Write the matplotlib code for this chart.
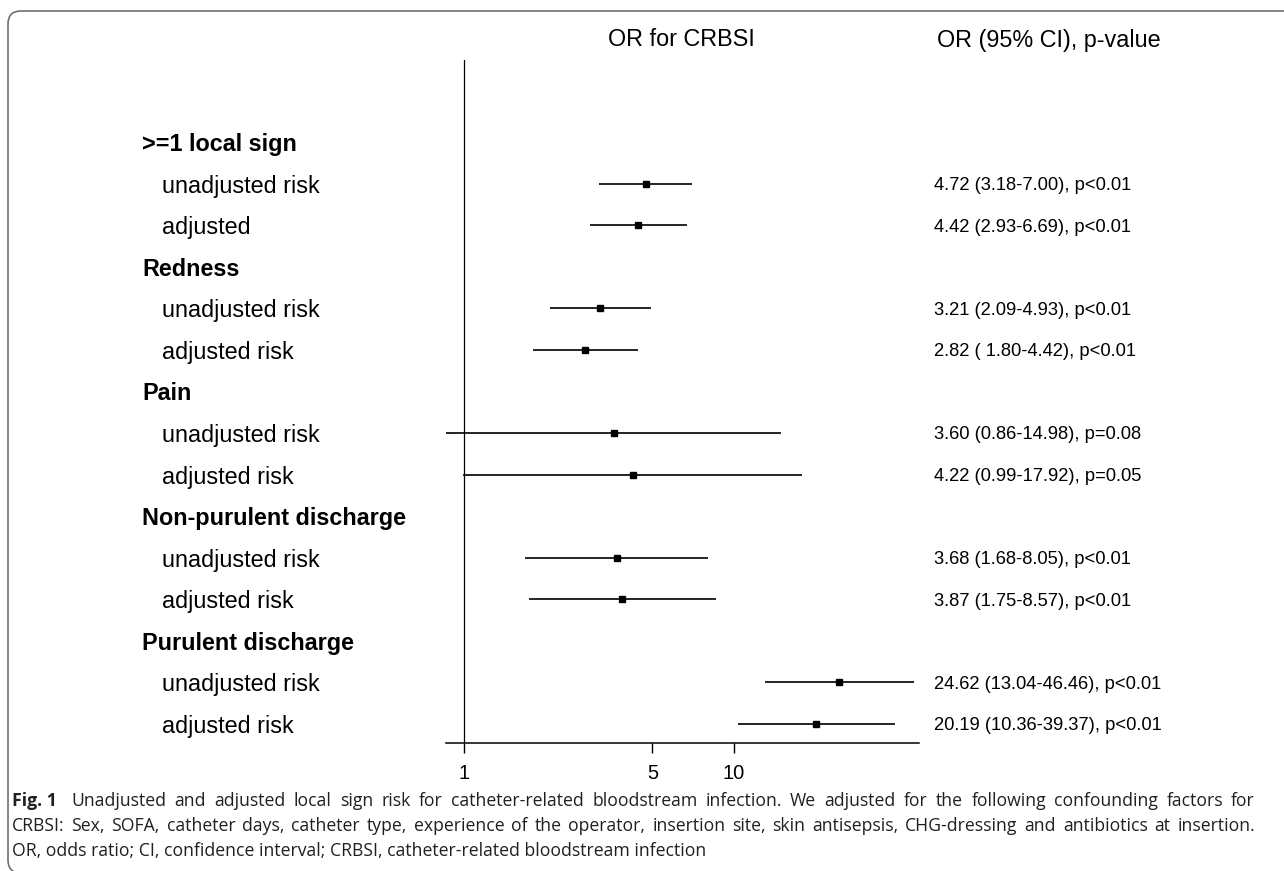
import matplotlib
matplotlib.use("Agg")
import matplotlib.pyplot as plt
import matplotlib.transforms as mtransforms
from matplotlib.patches import FancyBboxPatch

# ---------------- data ----------------
row_labels = [">=1 local sign", "unadjusted risk", "adjusted",
              "Redness", "unadjusted risk", "adjusted risk",
              "Pain", "unadjusted risk", "adjusted risk",
              "Non-purulent discharge", "unadjusted risk", "adjusted risk",
              "Purulent discharge", "unadjusted risk", "adjusted risk"]
is_header = [True, False, False, True, False, False, True, False, False,
             True, False, False, True, False, False]
odds_ratio = [None, 4.72, 4.42, None, 3.21, 2.82, None, 3.60, 4.22,
              None, 3.68, 3.87, None, 24.62, 20.19]
ci_low = [None, 3.18, 2.93, None, 2.09, 1.80, None, 0.86, 0.99,
          None, 1.68, 1.75, None, 13.04, 10.36]
ci_high = [None, 7.00, 6.69, None, 4.93, 4.42, None, 14.98, 17.92,
           None, 8.05, 8.57, None, 46.46, 39.37]
result_text = ["", "4.72 (3.18-7.00), p<0.01", "4.42 (2.93-6.69), p<0.01",
               "", "3.21 (2.09-4.93), p<0.01", "2.82 ( 1.80-4.42), p<0.01",
               "", "3.60 (0.86-14.98), p=0.08", "4.22 (0.99-17.92), p=0.05",
               "", "3.68 (1.68-8.05), p<0.01", "3.87 (1.75-8.57), p<0.01",
               "", "24.62 (13.04-46.46), p<0.01", "20.19 (10.36-39.37), p<0.01"]
x_ticks = [1, 5, 10]
x_tick_labels = ["1", "5", "10"]

caption_bold = "Fig. 1"
caption_lines = [
    "Unadjusted and adjusted local sign risk for catheter-related bloodstream infection. We adjusted for the following confounding factors for",
    "CRBSI: Sex, SOFA, catheter days, catheter type, experience of the operator, insertion site, skin antisepsis, CHG-dressing and antibiotics at insertion.",
    "OR, odds ratio; CI, confidence interval; CRBSI, catheter-related bloodstream infection",
]

# ---------------- layout helpers ----------------
W, H = 1284, 871
def fx(px):
    return px / W
def fy(py):
    return 1 - py / H

plt.rcParams['font.family'] = ['Liberation Sans', 'DejaVu Sans']

fig = plt.figure(figsize=(W / 100, H / 100), dpi=100)

row0, dy = 142.0, 41.57
ax_top, ax_bot = 60.0, 743.0
ax_left, ax_right = 446.0, 919.0
ax = fig.add_axes([fx(ax_left), fy(ax_bot), fx(ax_right) - fx(ax_left), (ax_bot - ax_top) / H])
ax.set_xscale('log')
ax.set_xlim(0.86, 48.5)
ax.set_ylim((ax_bot - row0) / dy, (ax_top - row0) / dy)
for s in ['top', 'right', 'left']:
    ax.spines[s].set_visible(False)
ax.spines['bottom'].set_linewidth(1.1)
ax.axvline(1, color='black', lw=0.9)
ax.set_yticks([])
ax.set_xticks(x_ticks)
ax.set_xticklabels(x_tick_labels, fontsize=14.5)
ax.minorticks_off()
ax.tick_params(axis='x', length=7, width=1, pad=8, direction='out')

for i in range(len(row_labels)):
    if odds_ratio[i] is not None:
        ax.plot([ci_low[i], ci_high[i]], [i, i], color='black', lw=1.2, solid_capstyle='butt')
        ax.plot([odds_ratio[i]], [i], marker='s', color='black', markersize=4.0, lw=0)

label_size = 16.8
tr = mtransforms.blended_transform_factory(fig.transFigure, ax.transData)
for i, lab in enumerate(row_labels):
    if is_header[i]:
        ax.text(fx(142), i, lab, transform=tr, fontsize=label_size, fontweight='bold',
                ha='left', va='center_baseline', color='black')
    else:
        ax.text(fx(162), i, lab, transform=tr, fontsize=label_size,
                ha='left', va='center_baseline', color='black')
    if result_text[i]:
        ax.text(fx(934), i, result_text[i], transform=tr, fontsize=13.2,
                ha='left', va='center_baseline', color='black')

fig.text(fx(608), fy(40), "OR for CRBSI", fontsize=label_size, ha='left', va='center')
fig.text(fx(937), fy(40), "OR (95% CI), p-value", fontsize=label_size, ha='left', va='center')

# ---------------- caption (justified first two lines) ----------------
cap_font = ['Open Sans', 'DejaVu Sans']
cap_color = '#231f20'
cap_size = 12.7
cap_left, cap_right = 12.0, 1255.0
renderer = fig.canvas.get_renderer()

def measure(s, bold=False):
    t = fig.text(0, 0, s, fontsize=cap_size, family=cap_font,
                 fontweight='bold' if bold else 'normal')
    w = t.get_window_extent(renderer).width
    t.remove()
    return w

space_w = measure("a b") - measure("ab")

def draw_caption_line(tokens, y_base, justify, first_extra=0.0):
    widths = [measure(s, b) for s, b in tokens]
    n = len(tokens)
    if justify and n > 1:
        gap = (cap_right - cap_left - sum(widths) - first_extra) / (n - 1)
    else:
        gap = space_w
    x = cap_left
    for k, (s, b) in enumerate(tokens):
        fig.text(fx(x), fy(y_base), s, fontsize=cap_size, family=cap_font,
                 fontweight='bold' if b else 'normal', color=cap_color,
                 ha='left', va='baseline')
        x += widths[k] + gap + (first_extra if k == 0 else 0.0)

line1 = [(caption_bold, True)] + [(w, False) for w in caption_lines[0].split()]
line2 = [(w, False) for w in caption_lines[1].split()]
draw_caption_line(line1, 806, True, first_extra=6.0)
draw_caption_line(line2, 831, True)
fig.text(fx(cap_left), fy(856), caption_lines[2], fontsize=cap_size, family=cap_font,
         color=cap_color, ha='left', va='baseline')

# ---------------- frame (open to the right and bottom) ----------------
frame = FancyBboxPatch((0.08, -0.02), 13.2, 8.62,
                       boxstyle="round,pad=0,rounding_size=0.13",
                       transform=fig.dpi_scale_trans, fill=False,
                       edgecolor='#707070', lw=1.2, clip_on=False)
fig.add_artist(frame)

fig.savefig("out.png", dpi=100)
